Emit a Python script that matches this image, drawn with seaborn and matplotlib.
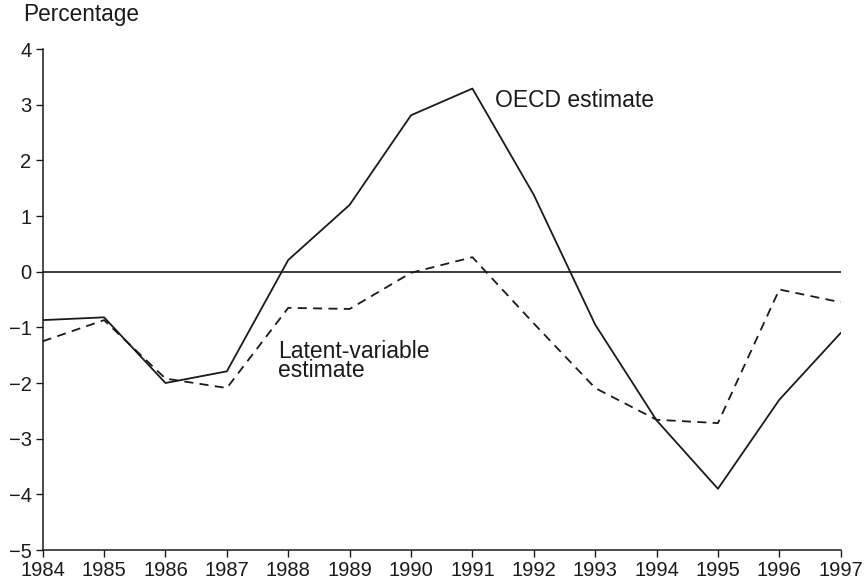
import numpy as np
import pandas as pd
import matplotlib
matplotlib.use("Agg")
import matplotlib.pyplot as plt
import seaborn as sns

# data
years = list(range(1984, 1998))
oecd = [-0.87, -0.82, -2.00, -1.79, 0.21, 1.20, 2.81, 3.29, 1.38, -0.95, -2.67, -3.90, -2.30, -1.10]
latent = [-1.25, -0.87, -1.92, -2.09, -0.65, -0.67, -0.02, 0.26, -0.93, -2.09, -2.66, -2.72, -0.32, -0.55]
yticks = [-5, -4, -3, -2, -1, 0, 1, 2, 3, 4]

df = pd.DataFrame({"year": years, "OECD": oecd, "Latent": latent})

sns.set_style("ticks")
plt.rcParams["font.family"] = ["Liberation Sans", "DejaVu Sans"]
plt.rcParams["axes.unicode_minus"] = True

fig = plt.figure(figsize=(8.66, 5.87), dpi=100)
ax = fig.add_axes([0.0493, 0.0630, 0.9215, 0.8535])

ax.axhline(0, color="#1a1a1a", lw=1.2, zorder=1)
sns.lineplot(data=df, x="year", y="OECD", ax=ax, color="#1a1a1a", lw=1.3)
sns.lineplot(data=df, x="year", y="Latent", ax=ax, color="#1a1a1a", lw=1.3,
             linestyle=(0, (5, 3.5)))

ax.set_xlim(1984, 1997)
ax.set_ylim(-5, 4)
ax.set_xticks(years)
ax.set_yticks(yticks)
ax.set_xlabel("")
ax.set_ylabel("")
ax.tick_params(labelsize=14.5, colors="#1a1a1a", length=5, width=1, pad=3)
for s in ["top", "right"]:
    ax.spines[s].set_visible(False)
for s in ["left", "bottom"]:
    ax.spines[s].set_color("#1a1a1a")
    ax.spines[s].set_linewidth(1.1)

fig.text(23 / 866, 1 - 14 / 587, "Percentage", fontsize=16.3, color="#1a1a1a",
         va="center", ha="left")
ax.text(1991.37, 3.07, "OECD estimate", fontsize=16.5, color="#1a1a1a",
        va="center", ha="left")
ax.text(1987.83, -1.6, "Latent-variable\nestimate", fontsize=16.5, color="#1a1a1a",
        va="center", ha="left", linespacing=0.78)

fig.savefig("out.png", dpi=100)
